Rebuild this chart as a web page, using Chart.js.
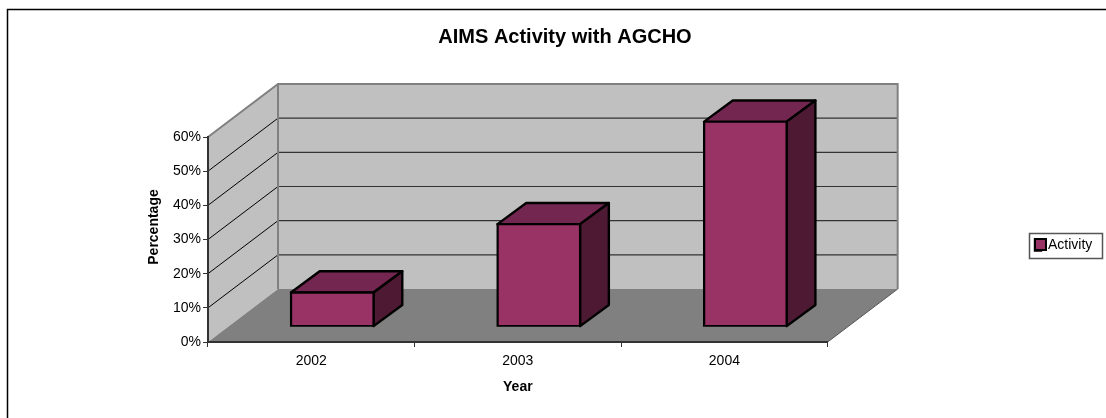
<!DOCTYPE html>
<html>
<head>
<meta charset="utf-8">
<style>
  html, body { margin: 0; padding: 0; background: #fff; }
  canvas { display: block; }
</style>
<script src="https://cdn.jsdelivr.net/npm/chart.js@4"></script>
</head>
<body>
<canvas id="chart" width="1106" height="418"></canvas>
<script>
const categories = ['2002', '2003', '2004']
const activity = [10, 30, 60]
const seriesName = 'Activity'
const chartTitle = 'AIMS Activity with AGCHO'
const xTitle = 'Year'
const yTitle = 'Percentage'

const FONT = '"Liberation Sans", Arial, sans-serif'
// how far the back wall sits from the front plane
const DEPTH_X = 70
const DEPTH_Y = 53
// bars stand in the middle of the floor depth
const BAR_FRONT_X = 0.3
const BAR_FRONT_Y = 0.29
const BAR_DEPTH_X = 0.41
const BAR_DEPTH_Y = 0.4

const poly = (ctx, pts, fill, stroke, width) => {
   ctx.beginPath()
   pts.forEach(([x, y], i) => (i ? ctx.lineTo(x, y) : ctx.moveTo(x, y)))
   ctx.closePath()
   if (fill) { ctx.fillStyle = fill; ctx.fill() }
   if (stroke) { ctx.strokeStyle = stroke; ctx.lineWidth = width; ctx.stroke() }
}

const line = (ctx, pts, color, width) => {
   ctx.beginPath()
   pts.forEach(([x, y], i) => (i ? ctx.lineTo(x, y) : ctx.moveTo(x, y)))
   ctx.strokeStyle = color
   ctx.lineWidth = width
   ctx.stroke()
}

const box3d = {
   id: 'box3d',
   afterLayout(chart) {
      // legend and title are placed by hand, the layout only reserves the room
      const lg = chart.legend
      const w = lg.width, h = lg.height
      lg.left = 1029; lg.right = 1029 + w
      lg.top = 232; lg.bottom = 232 + h
      chart.titleBlock.left = 24
      chart.titleBlock.right = 1106
   },
   beforeDraw(chart) {
      const { ctx, chartArea: a, scales: { y } } = chart
      const dx = DEPTH_X, dy = DEPTH_Y
      ctx.save()
      ctx.fillStyle = '#fff'
      ctx.fillRect(0, 0, chart.width, chart.height)
      // outer frame
      line(ctx, [[7.5, 418], [7.5, 9.5], [1106, 9.5]], '#000', 1.5)

      // walls and floor
      poly(ctx, [[a.left, a.top], [a.left + dx, a.top - dy], [a.left + dx, a.bottom - dy], [a.left, a.bottom]], '#c0c0c0')
      poly(ctx, [[a.left + dx, a.top - dy], [a.right + dx, a.top - dy], [a.right + dx, a.bottom - dy], [a.left + dx, a.bottom - dy]], '#c0c0c0')
      poly(ctx, [[a.left, a.bottom], [a.left + dx, a.bottom - dy], [a.right + dx, a.bottom - dy], [a.right, a.bottom]], '#808080')

      y.ticks.forEach(t => {
         if (t.value === y.min || t.value === y.max) return
         const py = y.getPixelForValue(t.value)
         line(ctx, [[a.left, py], [a.left + dx, py - dy]], '#000', 1)
         line(ctx, [[a.left + dx, py - dy], [a.right + dx, py - dy]], '#333', 1.2)
      })
      line(ctx, [[a.left, a.top], [a.left + dx, a.top - dy], [a.right + dx, a.top - dy], [a.right + dx, a.bottom - dy]], '#808080', 2)
      line(ctx, [[a.left + dx, a.top - dy], [a.left + dx, a.bottom - dy]], '#808080', 2)
      line(ctx, [[a.right, a.bottom], [a.right + dx, a.bottom - dy]], '#555', 1)

      // y axis title, sits higher than the scale's own centre
      ctx.translate(154.5, 227)
      ctx.rotate(-Math.PI / 2)
      ctx.font = 'bold 14px ' + FONT
      ctx.fillStyle = '#000'
      ctx.textAlign = 'center'
      ctx.textBaseline = 'middle'
      ctx.fillText(yTitle, 0, 0)
      ctx.restore()
   },
   beforeDatasetDraw(chart, args) {
      const { ctx } = chart
      ctx.save()
      ctx.translate(DEPTH_X * BAR_FRONT_X, -DEPTH_Y * BAR_FRONT_Y)
      const dx = DEPTH_X * BAR_DEPTH_X, dy = DEPTH_Y * BAR_DEPTH_Y
      ctx.lineJoin = 'round'
      args.meta.data.forEach(bar => {
         const p = bar.getProps(['x', 'y', 'base', 'width'], true)
         const l = p.x - p.width / 2, r = p.x + p.width / 2
         poly(ctx, [[l, p.y], [l + dx, p.y - dy], [r + dx, p.y - dy], [r, p.y]], '#732650', '#000', 2.4)
         poly(ctx, [[r, p.y], [r + dx, p.y - dy], [r + dx, p.base - dy], [r, p.base]], '#4d1933', '#000', 2.4)
      })
   },
   afterDatasetDraw(chart) {
      chart.ctx.restore()
   },
   afterDraw(chart) {
      const { ctx } = chart
      // legend frame and the full width swatch
      ctx.save()
      ctx.strokeStyle = '#555'
      ctx.lineWidth = 1.5
      ctx.strokeRect(1029.5, 233.5, 73, 25)
      ctx.fillStyle = '#993366'
      ctx.strokeStyle = '#000'
      ctx.lineWidth = 2
      ctx.fillRect(1035, 239, 11, 11)
      ctx.strokeRect(1035, 239, 11, 11)
      ctx.restore()
   },
}

new Chart(document.getElementById('chart').getContext('2d'), {
   type: 'bar',
   plugins: [box3d],
   data: {
      labels: categories,
      datasets: [
         {
            label: seriesName,
            data: activity,
            backgroundColor: '#993366',
            borderColor: '#000',
            borderWidth: 2.4,
            borderSkipped: false,
            inflateAmount: 1.2,
            barPercentage: 0.4,
            categoryPercentage: 1,
         },
      ],
   },
   options: {
      responsive: false,
      animation: false,
      events: [],
      layout: { padding: { left: 24, right: 205, top: 0, bottom: 0 } },
      plugins: {
         tooltip: { enabled: false },
         title: {
            display: true,
            text: chartTitle,
            color: '#000',
            font: { family: FONT, size: 20, weight: 'bold' },
            padding: { top: 25, bottom: 88 },
         },
         legend: {
            position: 'right',
            align: 'start',
            labels: {
               boxWidth: 6,
               boxHeight: 11,
               padding: 6,
               color: '#000',
               font: { family: FONT, size: 14 },
            },
         },
      },
      scales: {
         x: {
            grid: { drawOnChartArea: false, color: '#333', tickLength: 5 },
            border: { color: '#333', width: 2 },
            ticks: { color: '#000', padding: 6, maxRotation: 0, font: { family: FONT, size: 14 } },
            title: {
               display: true,
               text: xTitle,
               color: '#000',
               font: { family: FONT, size: 14, weight: 'bold' },
               padding: { top: 0, bottom: 22 },
            },
            afterFit: s => { s.height = 76 },
         },
         y: {
            min: 0,
            max: 60,
            grid: { drawOnChartArea: false, color: '#333', tickLength: 5 },
            border: { color: '#333', width: 2 },
            ticks: {
               stepSize: 10,
               color: '#000',
               padding: 2,
               font: { family: FONT, size: 14 },
               callback: v => v + '%',
            },
            afterFit: s => { s.width = 184 },
         },
      },
   },
})
</script>
</body>
</html>
